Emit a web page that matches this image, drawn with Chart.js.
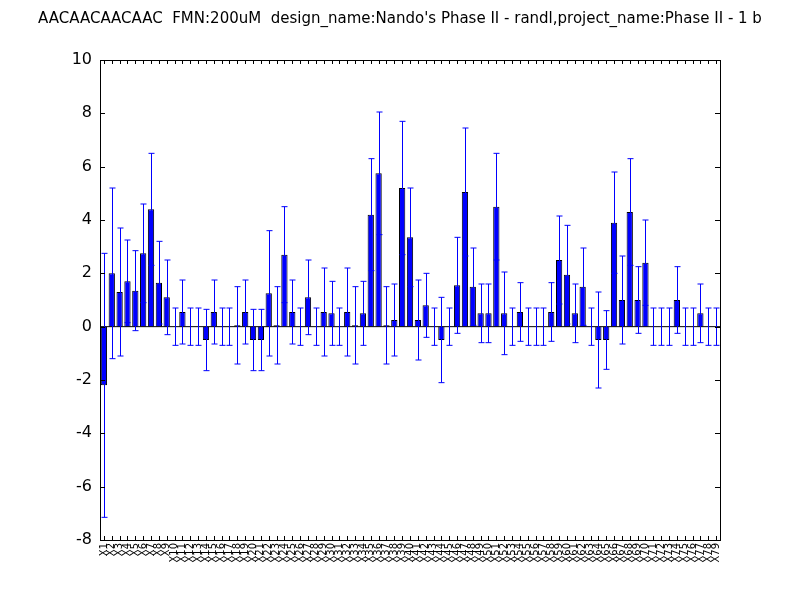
<!DOCTYPE html>
<html><head><meta charset="utf-8">
<script src="https://cdn.jsdelivr.net/npm/chart.js@4"></script>
<style>body{margin:0;background:#fff}#w{width:800px;height:600px}</style>
</head><body><div id="w"><canvas id="c"></canvas></div>
<script>
const categories = Array.from({length:79},(_,i)=>'X'+(i+1));
const values = [-2.2,2.0,1.3,1.7,1.35,2.75,4.4,1.65,1.1,0,0.55,0,0,-0.5,0.55,0,0,0.05,0.55,-0.5,-0.5,1.25,0.05,2.7,0.55,0,1.1,0,0.55,0.5,0,0.55,0.05,0.5,4.2,5.75,0.05,0.25,5.2,3.35,0.25,0.8,0,-0.5,0,1.55,5.05,1.5,0.5,0.5,4.5,0.5,0,0.55,0,0,0,0.55,2.5,1.95,0.5,1.5,0,-0.5,-0.5,3.9,1.0,4.3,1.0,2.4,0,0,0,1.0,0,0,0.5,0,0];
const errors = [4.95,3.2,2.4,1.55,1.5,1.85,2.1,1.55,1.4,0.7,1.2,0.7,0.7,1.15,1.2,0.7,0.7,1.45,1.2,1.15,1.15,2.35,1.45,1.8,1.2,0.7,1.4,0.7,1.65,1.2,0.7,1.65,1.45,1.2,2.1,2.3,1.45,1.35,2.5,1.85,1.5,1.2,0.7,1.6,0.7,1.8,2.4,1.45,1.1,1.1,2.0,1.55,0.7,1.1,0.7,0.7,0.7,1.1,1.65,1.85,1.1,1.45,0.7,1.8,1.1,1.9,1.65,2.0,1.25,1.6,0.7,0.7,0.7,1.25,0.7,0.7,1.1,0.7,0.7];
const yTicks = [-8,-6,-4,-2,0,2,4,6,8,10];
const titleText = "AACAACAACAAC  FMN:200uM  design_name:Nando's Phase II - randl,project_name:Phase II - 1 b";

const extras = {
  id:'extras',
  afterDatasetsDraw(chart){
    const {ctx, chartArea:a, scales:{x,y}} = chart;
    ctx.save();
    // zero line
    ctx.strokeStyle='#000'; ctx.lineWidth=1;
    ctx.beginPath(); ctx.moveTo(a.left,y.getPixelForValue(0)); ctx.lineTo(a.right,y.getPixelForValue(0)); ctx.stroke();
    // error bars
    ctx.strokeStyle='#0000ff'; ctx.lineWidth=1;
    values.forEach((v,i)=>{
      const cx=Math.round(x.getPixelForValue(i))+0.5;
      const t=y.getPixelForValue(v+errors[i]), b=y.getPixelForValue(v-errors[i]);
      ctx.beginPath();
      ctx.moveTo(cx,t); ctx.lineTo(cx,b);
      ctx.moveTo(cx-3,t); ctx.lineTo(cx+3,t);
      ctx.moveTo(cx-3,b); ctx.lineTo(cx+3,b);
      ctx.stroke();
    });
    // frame
    ctx.strokeStyle='#000';
    ctx.strokeRect(a.left+0.5,a.top+0.5,a.right-a.left,a.bottom-a.top);
    // ticks inside
    yTicks.forEach(t=>{const py=Math.round(y.getPixelForValue(t))+0.5;
      ctx.beginPath();ctx.moveTo(a.left,py);ctx.lineTo(a.left+5,py);ctx.moveTo(a.right,py);ctx.lineTo(a.right-5,py);ctx.stroke();});
    values.forEach((v,i)=>{const px=Math.round(x.getPixelForValue(i))+0.5;
      ctx.beginPath();ctx.moveTo(px,a.bottom);ctx.lineTo(px,a.bottom-4);ctx.moveTo(px,a.top);ctx.lineTo(px,a.top+4);ctx.stroke();});
    // title
    ctx.fillStyle='#000'; ctx.font='15px "DejaVu Sans"'; ctx.textAlign='center'; ctx.textBaseline='middle';
    ctx.fillText(titleText,400,19);
    ctx.restore();
  }
};

new Chart(document.getElementById('c'),{
  type:'bar',
  data:{labels:categories,datasets:[{data:values,backgroundColor:'#0000ff',borderColor:'#000',borderWidth:1,barPercentage:0.8,categoryPercentage:1}]},
  options:{
    responsive:true,maintainAspectRatio:false,animation:false,
    layout:{padding:{top:60,right:80,left:0,bottom:0}},
    plugins:{legend:{display:false},tooltip:{enabled:false}},
    scales:{
      x:{grid:{display:false,drawTicks:false},border:{display:false},
         ticks:{autoSkip:false,maxRotation:90,minRotation:90,font:{family:'DejaVu Sans',size:10},color:'#000',padding:3},
         afterFit(s){s.height=60;}},
      y:{min:-8,max:10,grid:{display:false,drawTicks:false},border:{display:false},
         afterBuildTicks(s){s.ticks=yTicks.map(v=>({value:v}));},
         ticks:{font:{family:'DejaVu Sans',size:16},color:'#000',padding:8},
         afterFit(s){s.width=100;}}
    }
  },
  plugins:[extras]
});
</script></body></html>
